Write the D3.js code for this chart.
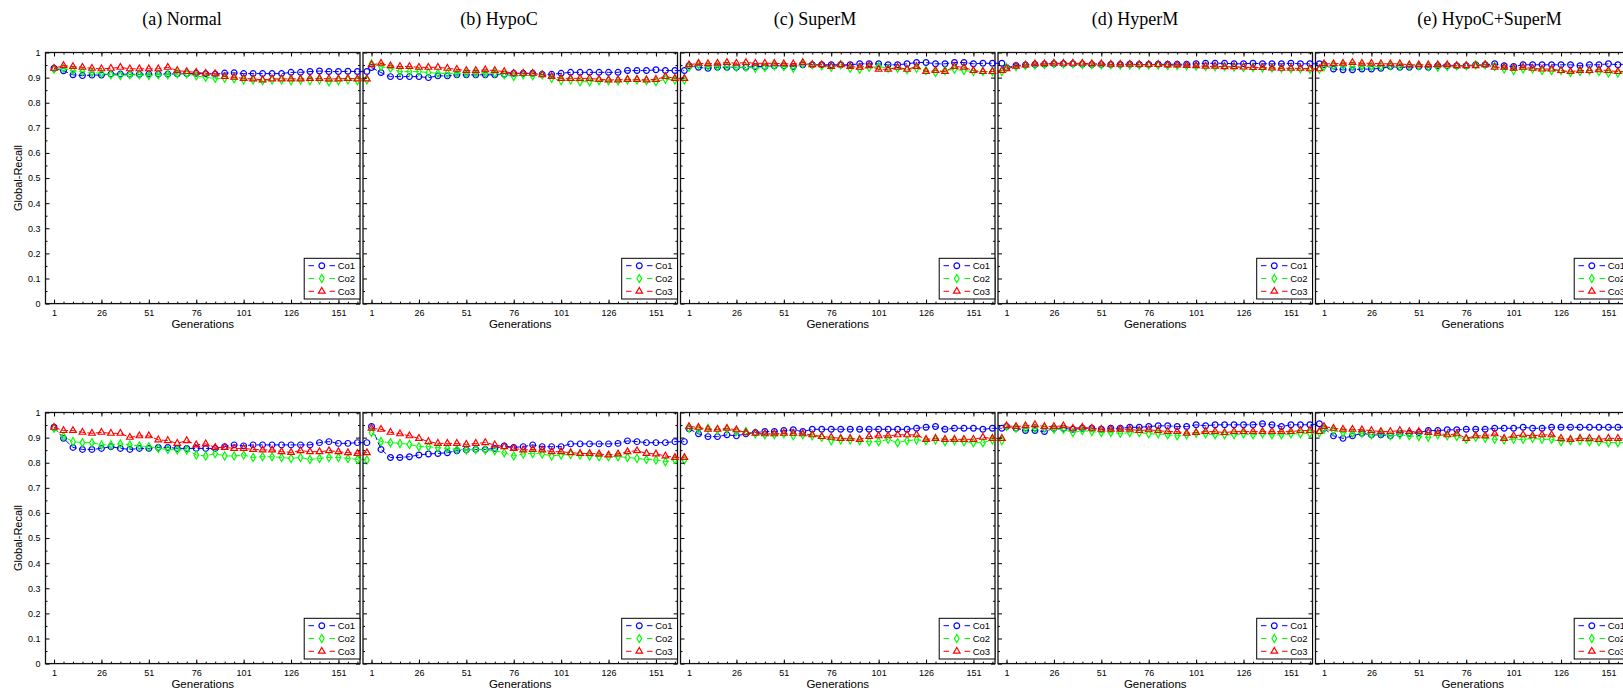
<!DOCTYPE html>
<html>
<head>
<meta charset="utf-8">
<script src="https://cdn.jsdelivr.net/npm/d3@7"></script>
<style>
  body { margin: 0; background: #fff; }
  svg { display: block; }
</style>
</head>
<body>
<div id="chart"></div>
<script>
// Generations sampled every 5
const generations = [1, 6, 11, 16, 21, 26, 31, 36, 41, 46, 51, 56, 61, 66, 71, 76, 81, 86, 91, 96, 101, 106, 111, 116, 121, 126, 131, 136, 141, 146, 151, 156, 161, 166];
const panelTitles = ["(a) Normal", "(b) HypoC", "(c) SuperM", "(d) HyperM", "(e) HypoC+SuperM"];
const seriesNames = ["Co1", "Co2", "Co3"];
const xTickValues = [1, 26, 51, 76, 101, 126, 151];
const yTickValues = [0, 0.1, 0.2, 0.3, 0.4, 0.5, 0.6, 0.7, 0.8, 0.9, 1];
const yMinorTicks = [0.05, 0.15, 0.25, 0.35, 0.45, 0.55, 0.65, 0.75, 0.85, 0.95];

// ---- top row ----
const normalTopCo1 = [0.937,0.927,0.911,0.908,0.910,0.910,0.914,0.914,0.913,0.913,0.914,0.914,0.914,0.915,0.916,0.917,0.915,0.914,0.918,0.919,0.916,0.916,0.916,0.916,0.916,0.921,0.921,0.924,0.926,0.924,0.924,0.925,0.924,0.924];
const normalTopCo2 = [0.933,0.937,0.928,0.924,0.920,0.917,0.911,0.908,0.911,0.911,0.908,0.911,0.911,0.915,0.915,0.907,0.901,0.897,0.897,0.895,0.891,0.891,0.888,0.891,0.891,0.888,0.891,0.888,0.891,0.884,0.888,0.891,0.888,0.891];
const normalTopCo3 = [0.937,0.948,0.944,0.941,0.937,0.935,0.937,0.941,0.935,0.935,0.935,0.935,0.941,0.928,0.924,0.921,0.917,0.915,0.904,0.901,0.897,0.895,0.891,0.895,0.895,0.895,0.895,0.897,0.897,0.895,0.895,0.897,0.895,0.895];

const hypoCTopCo1 = [0.940,0.920,0.904,0.904,0.904,0.904,0.900,0.907,0.907,0.911,0.911,0.911,0.911,0.911,0.913,0.917,0.917,0.917,0.913,0.913,0.917,0.921,0.921,0.921,0.921,0.921,0.921,0.928,0.928,0.928,0.931,0.928,0.928,0.928];
const hypoCTopCo2 = [0.955,0.944,0.937,0.924,0.924,0.924,0.920,0.917,0.917,0.917,0.917,0.917,0.917,0.917,0.911,0.904,0.911,0.907,0.911,0.897,0.888,0.891,0.884,0.884,0.888,0.888,0.888,0.891,0.891,0.888,0.884,0.893,0.891,0.891];
const hypoCTopCo3 = [0.951,0.957,0.947,0.944,0.944,0.941,0.941,0.941,0.937,0.933,0.928,0.928,0.931,0.928,0.924,0.917,0.917,0.917,0.911,0.904,0.897,0.897,0.897,0.897,0.893,0.891,0.891,0.893,0.893,0.891,0.893,0.904,0.897,0.897];

const superMTopCo1 = [0.947,0.941,0.937,0.941,0.941,0.941,0.941,0.944,0.944,0.947,0.947,0.944,0.951,0.951,0.951,0.951,0.951,0.951,0.955,0.955,0.955,0.951,0.951,0.955,0.960,0.960,0.955,0.955,0.960,0.960,0.955,0.957,0.957,0.957];
const superMTopCo2 = [0.941,0.951,0.944,0.944,0.944,0.941,0.941,0.937,0.941,0.947,0.944,0.937,0.955,0.951,0.947,0.941,0.951,0.937,0.933,0.941,0.944,0.937,0.937,0.931,0.937,0.928,0.920,0.928,0.933,0.928,0.924,0.924,0.924,0.924];
const superMTopCo3 = [0.951,0.957,0.955,0.957,0.960,0.957,0.960,0.957,0.957,0.957,0.955,0.955,0.960,0.951,0.951,0.944,0.951,0.944,0.941,0.947,0.933,0.933,0.941,0.933,0.944,0.924,0.928,0.924,0.944,0.941,0.928,0.924,0.924,0.928];

const hyperMTopCo1 = [0.940,0.948,0.950,0.952,0.953,0.955,0.955,0.955,0.953,0.952,0.952,0.952,0.952,0.953,0.952,0.952,0.953,0.953,0.953,0.953,0.955,0.957,0.957,0.957,0.955,0.955,0.957,0.955,0.955,0.955,0.957,0.955,0.955,0.955];
const hyperMTopCo2 = [0.940,0.943,0.948,0.950,0.952,0.955,0.955,0.955,0.952,0.952,0.951,0.951,0.950,0.950,0.950,0.950,0.950,0.948,0.948,0.947,0.946,0.944,0.943,0.944,0.942,0.940,0.940,0.938,0.938,0.937,0.935,0.935,0.933,0.933];
const hyperMTopCo3 = [0.935,0.945,0.950,0.955,0.955,0.957,0.957,0.957,0.957,0.955,0.955,0.953,0.953,0.953,0.952,0.952,0.952,0.950,0.950,0.948,0.947,0.945,0.945,0.943,0.943,0.942,0.940,0.940,0.938,0.937,0.937,0.937,0.935,0.935];

const hypoSuperTopCo1 = [0.951,0.934,0.931,0.931,0.934,0.934,0.937,0.944,0.941,0.941,0.944,0.941,0.947,0.947,0.947,0.947,0.951,0.951,0.955,0.947,0.944,0.951,0.951,0.951,0.951,0.951,0.951,0.947,0.951,0.951,0.955,0.951,0.955,0.951];
const hypoSuperTopCo2 = [0.944,0.947,0.947,0.944,0.944,0.944,0.944,0.947,0.944,0.947,0.947,0.944,0.941,0.944,0.947,0.947,0.951,0.951,0.944,0.934,0.928,0.934,0.934,0.928,0.928,0.928,0.920,0.924,0.928,0.924,0.918,0.918,0.918,0.920];
const hypoSuperTopCo3 = [0.955,0.955,0.957,0.960,0.957,0.957,0.955,0.955,0.955,0.951,0.951,0.951,0.951,0.951,0.947,0.947,0.947,0.951,0.941,0.941,0.937,0.941,0.937,0.934,0.934,0.928,0.924,0.928,0.928,0.931,0.928,0.924,0.924,0.924];

// ---- bottom row ----
const normalBotCo1 = [0.941,0.897,0.861,0.853,0.853,0.857,0.864,0.857,0.853,0.857,0.857,0.861,0.861,0.857,0.857,0.857,0.857,0.857,0.864,0.871,0.867,0.871,0.871,0.871,0.871,0.871,0.871,0.871,0.880,0.884,0.877,0.877,0.880,0.880];
const normalBotCo2 = [0.937,0.904,0.884,0.880,0.880,0.871,0.871,0.875,0.871,0.867,0.864,0.857,0.853,0.851,0.851,0.831,0.827,0.837,0.827,0.827,0.831,0.821,0.824,0.824,0.821,0.817,0.821,0.813,0.817,0.821,0.821,0.817,0.813,0.811];
const normalBotCo3 = [0.941,0.928,0.928,0.921,0.917,0.921,0.917,0.917,0.901,0.907,0.907,0.891,0.888,0.877,0.888,0.871,0.875,0.861,0.861,0.857,0.857,0.853,0.851,0.851,0.844,0.841,0.848,0.844,0.844,0.848,0.844,0.840,0.837,0.840];

const hypoCBotCo1 = [0.944,0.853,0.821,0.821,0.824,0.831,0.835,0.837,0.840,0.848,0.851,0.853,0.853,0.857,0.867,0.861,0.864,0.871,0.864,0.864,0.864,0.875,0.875,0.875,0.875,0.875,0.877,0.887,0.884,0.880,0.880,0.880,0.884,0.884];
const hypoCBotCo2 = [0.920,0.884,0.880,0.877,0.873,0.864,0.864,0.860,0.857,0.853,0.851,0.853,0.851,0.848,0.840,0.827,0.835,0.837,0.835,0.827,0.831,0.833,0.831,0.827,0.824,0.824,0.824,0.821,0.817,0.813,0.811,0.804,0.813,0.811];
const hypoCBotCo3 = [0.937,0.933,0.921,0.915,0.907,0.897,0.884,0.877,0.877,0.877,0.873,0.877,0.880,0.871,0.864,0.857,0.851,0.853,0.851,0.844,0.844,0.840,0.837,0.837,0.835,0.831,0.835,0.844,0.848,0.837,0.835,0.827,0.821,0.821];

const superMBotCo1 = [0.935,0.915,0.904,0.904,0.911,0.907,0.915,0.920,0.924,0.924,0.928,0.931,0.924,0.933,0.933,0.933,0.933,0.933,0.933,0.933,0.933,0.933,0.933,0.933,0.937,0.941,0.944,0.933,0.937,0.937,0.937,0.933,0.937,0.937];
const superMBotCo2 = [0.937,0.933,0.937,0.931,0.933,0.924,0.924,0.915,0.911,0.911,0.915,0.907,0.911,0.907,0.901,0.888,0.891,0.891,0.888,0.884,0.884,0.893,0.880,0.888,0.891,0.888,0.891,0.884,0.888,0.884,0.880,0.880,0.891,0.888];
const superMBotCo3 = [0.944,0.941,0.933,0.933,0.937,0.931,0.920,0.917,0.915,0.915,0.917,0.917,0.915,0.911,0.904,0.901,0.897,0.897,0.893,0.904,0.907,0.907,0.911,0.911,0.911,0.893,0.897,0.893,0.893,0.893,0.893,0.901,0.897,0.897];

const hyperMBotCo1 = [0.944,0.937,0.928,0.928,0.924,0.937,0.937,0.933,0.937,0.937,0.933,0.937,0.937,0.941,0.941,0.944,0.947,0.947,0.944,0.944,0.951,0.947,0.951,0.951,0.951,0.951,0.951,0.955,0.951,0.944,0.951,0.951,0.951,0.955];
const hyperMBotCo2 = [0.944,0.937,0.937,0.937,0.937,0.933,0.933,0.920,0.928,0.924,0.920,0.920,0.917,0.920,0.920,0.915,0.915,0.911,0.907,0.911,0.917,0.915,0.911,0.911,0.911,0.915,0.911,0.915,0.911,0.911,0.915,0.915,0.917,0.920];
const hyperMBotCo3 = [0.947,0.944,0.947,0.951,0.944,0.944,0.947,0.937,0.941,0.937,0.933,0.933,0.933,0.933,0.928,0.931,0.928,0.924,0.924,0.917,0.920,0.924,0.924,0.920,0.924,0.924,0.924,0.924,0.924,0.924,0.924,0.928,0.928,0.924];

const hypoSuperBotCo1 = [0.937,0.907,0.897,0.907,0.917,0.911,0.911,0.907,0.915,0.917,0.920,0.928,0.928,0.931,0.931,0.933,0.933,0.933,0.937,0.937,0.937,0.941,0.937,0.937,0.941,0.941,0.941,0.941,0.941,0.941,0.941,0.941,0.941,0.941];
const hypoSuperBotCo2 = [0.933,0.928,0.920,0.917,0.917,0.911,0.917,0.907,0.911,0.907,0.904,0.901,0.911,0.907,0.904,0.893,0.901,0.897,0.893,0.891,0.893,0.893,0.897,0.893,0.893,0.884,0.888,0.888,0.884,0.884,0.880,0.880,0.880,0.880];
const hypoSuperBotCo3 = [0.944,0.937,0.933,0.933,0.931,0.928,0.924,0.924,0.928,0.924,0.924,0.920,0.917,0.911,0.915,0.897,0.907,0.907,0.915,0.897,0.907,0.911,0.907,0.911,0.911,0.897,0.893,0.897,0.897,0.893,0.897,0.897,0.893,0.893];

const topRow = [
    [normalTopCo1, normalTopCo2, normalTopCo3],
    [hypoCTopCo1, hypoCTopCo2, hypoCTopCo3],
    [superMTopCo1, superMTopCo2, superMTopCo3],
    [hyperMTopCo1, hyperMTopCo2, hyperMTopCo3],
    [hypoSuperTopCo1, hypoSuperTopCo2, hypoSuperTopCo3]
];
const bottomRow = [
    [normalBotCo1, normalBotCo2, normalBotCo3],
    [hypoCBotCo1, hypoCBotCo2, hypoCBotCo3],
    [superMBotCo1, superMBotCo2, superMBotCo3],
    [hyperMBotCo1, hyperMBotCo2, hyperMBotCo3],
    [hypoSuperBotCo1, hypoSuperBotCo2, hypoSuperBotCo3]
];

// layout
const width = 1623, height = 691;
const panelLeft = 45.5, panelStride = 317.5, panelW = 314.5, panelH = 251.1;
const pxPerGen = 1.896;
const rowTops = [52.5, 412.5];
const titleX = [182, 499, 815, 1135, 1489.5];
const sans = "'Liberation Sans', Arial, sans-serif";

const colors = ["#0000ff", "#00ff00", "#ff0000"];
const symbols = [d3.symbolCircle, d3.symbolDiamond, d3.symbolTriangle];
const symbolSizes = [26, 19, 19];

const svg = d3.select("#chart")
    .append("svg")
    .attr("width", width)
    .attr("height", height)
    .style("font-family", sans);

// Titles
svg.append("g")
    .selectAll("text")
    .data(panelTitles)
    .join("text")
    .attr("x", (d, i) => titleX[i])
    .attr("y", 25)
    .attr("text-anchor", "middle")
    .style("font-family", "'Liberation Serif', 'Times New Roman', serif")
    .style("font-size", "18px")
    .text(d => d);

[topRow, bottomRow].forEach((row, r) => {
    const top = rowTops[r];
    row.forEach((series, p) => {
        const left = panelLeft + p * panelStride;
        const x = d3.scaleLinear().domain([-3.5, -3.5 + panelW / pxPerGen]).range([left, left + panelW]);
        const y = d3.scaleLinear().domain([0, 1]).range([top + panelH, top]);
        const g = svg.append("g");

        // axes (ticks point inward)
        const styleAxis = sel => {
            sel.select(".domain").remove();
            sel.selectAll("line").attr("stroke", "#000");
            sel.selectAll("text").attr("font-size", 9).attr("font-family", sans).attr("fill", "#000");
        };
        const minorX = generations.filter(d => d <= 161);

        g.append("g").attr("transform", `translate(0,${y(0)})`)
            .call(d3.axisBottom(x).tickValues(minorX).tickSize(-2).tickFormat(""))
            .call(styleAxis);
        g.append("g").attr("transform", `translate(0,${y(0)})`)
            .call(d3.axisBottom(x).tickValues(xTickValues).tickSize(-4).tickPadding(6.5))
            .call(styleAxis);
        g.append("g").attr("transform", `translate(0,${y(1)})`)
            .call(d3.axisTop(x).tickValues(minorX).tickSize(-2).tickFormat(""))
            .call(styleAxis);
        g.append("g").attr("transform", `translate(0,${y(1)})`)
            .call(d3.axisTop(x).tickValues(xTickValues).tickSize(-4).tickFormat(""))
            .call(styleAxis);

        g.append("g").attr("transform", `translate(${left},0)`)
            .call(d3.axisLeft(y).tickValues(yMinorTicks).tickSize(-2).tickFormat(""))
            .call(styleAxis);
        g.append("g").attr("transform", `translate(${left},0)`)
            .call(d3.axisLeft(y).tickValues(yTickValues).tickSize(-4).tickPadding(5)
                .tickFormat(p === 0 ? d3.format("~g") : ""))
            .call(styleAxis);
        g.append("g").attr("transform", `translate(${left + panelW},0)`)
            .call(d3.axisRight(y).tickValues(yMinorTicks).tickSize(-2).tickFormat(""))
            .call(styleAxis);
        g.append("g").attr("transform", `translate(${left + panelW},0)`)
            .call(d3.axisRight(y).tickValues(yTickValues).tickSize(-4).tickFormat(""))
            .call(styleAxis);

        // frame
        g.append("rect")
            .attr("x", left)
            .attr("y", y(1))
            .attr("width", panelW)
            .attr("height", y(0) - y(1))
            .attr("fill", "none")
            .attr("stroke", "#111")
            .attr("stroke-width", 1.3);

        // x label
        g.append("text")
            .attr("x", left + panelW / 2)
            .attr("y", y(0) + 24.5)
            .attr("text-anchor", "middle")
            .style("font-size", "11.5px")
            .text("Generations");

        if (p === 0) {
            g.append("text")
                .attr("transform", `translate(21.5,${(y(0) + y(1)) / 2}) rotate(-90)`)
                .attr("text-anchor", "middle")
                .style("font-size", "11px")
                .text("Global-Recall");
        }

        // series
        series.forEach((values, s) => {
            const pts = values.map((v, i) => [generations[i], v]);
            g.append("path")
                .datum(pts)
                .attr("fill", "none")
                .attr("stroke", colors[s])
                .attr("stroke-width", 1)
                .attr("stroke-dasharray", "6,2.5")
                .attr("d", d3.line().x(d => x(d[0])).y(d => y(d[1])));
            g.append("g")
                .selectAll("path")
                .data(pts)
                .join("path")
                .attr("transform", d => `translate(${x(d[0])},${y(d[1])})`)
                .attr("d", d3.symbol().type(symbols[s]).size(symbolSizes[s]))
                .attr("fill", "none")
                .attr("stroke", colors[s])
                .attr("stroke-width", 1.2);
        });

        // legend, anchored to the right edge of the frame
        const legW = 55.8, lx = left + panelW - legW, ly = y(0) - 45.3;
        const leg = g.append("g");
        leg.append("rect")
            .attr("x", lx).attr("y", ly)
            .attr("width", legW).attr("height", 40.7)
            .attr("fill", "#fff")
            .attr("stroke", "#000")
            .attr("stroke-width", 1);
        const item = leg.selectAll("g")
            .data(seriesNames)
            .join("g")
            .attr("transform", (d, i) => `translate(${lx},${ly + 7.4 + i * 12.8})`);
        item.append("line")
            .attr("x1", 4.3).attr("x2", 31)
            .attr("stroke", (d, i) => colors[i])
            .attr("stroke-width", 1)
            .attr("stroke-dasharray", "5.5,15.5");
        item.append("path")
            .attr("transform", "translate(17.6,0)")
            .attr("d", (d, i) => d3.symbol().type(symbols[i]).size(symbolSizes[i])())
            .attr("fill", "none")
            .attr("stroke", (d, i) => colors[i])
            .attr("stroke-width", 1.2);
        item.append("text")
            .attr("x", 33.5)
            .attr("dy", "0.35em")
            .style("font-size", "9.5px")
            .text(d => d);
    });
});
</script>
</body>
</html>
